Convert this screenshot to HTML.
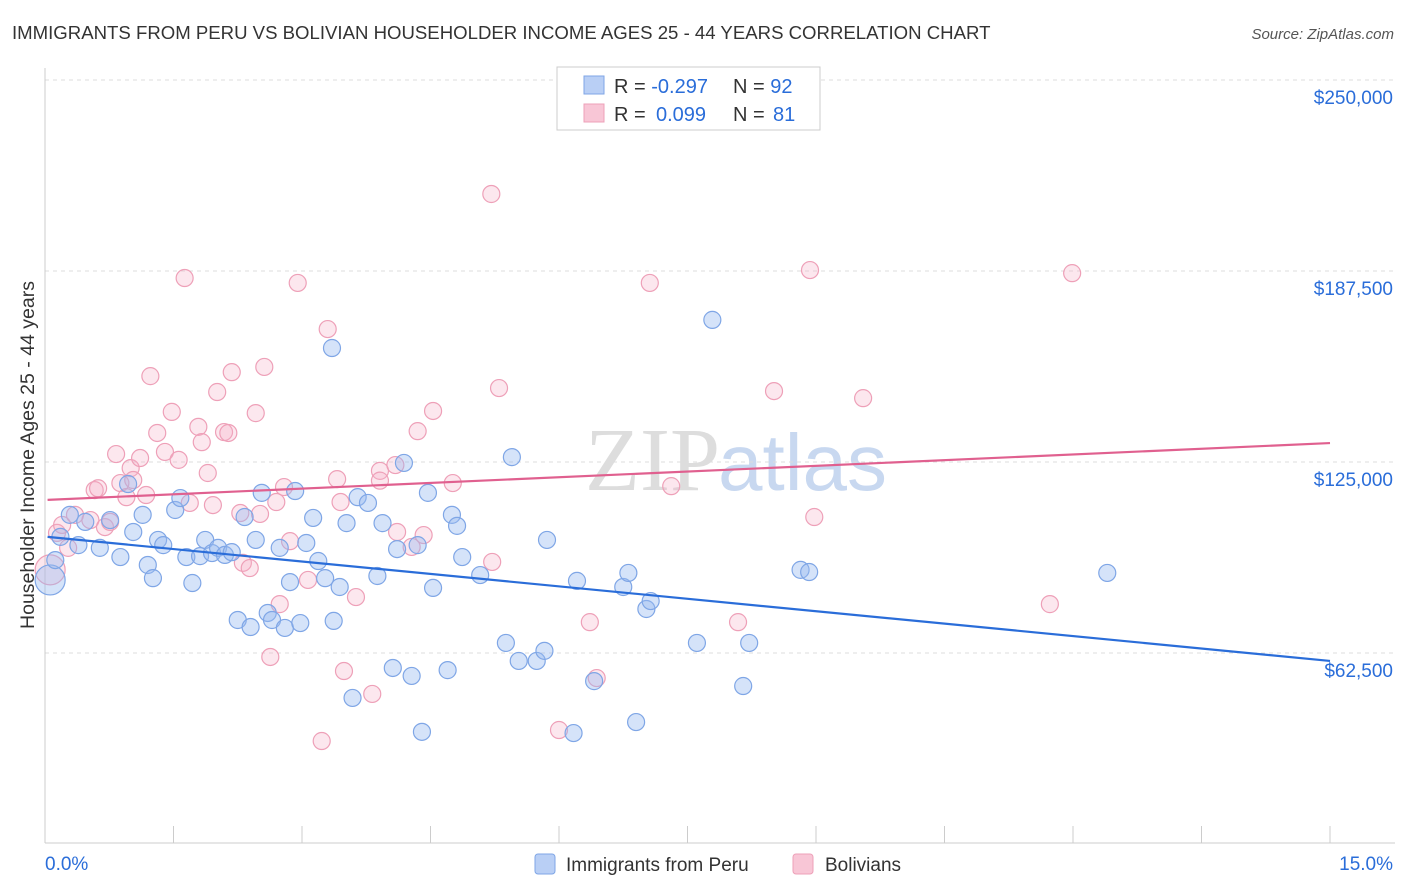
<!DOCTYPE html>
<html><head><meta charset="utf-8"><style>
body{margin:0;background:#fff;font-family:"Liberation Sans",sans-serif;}
svg{display:block}
</style></head><body>
<svg id="chart" width="1406" height="892">
<text x="12" y="39" font-size="18.6" fill="#333">IMMIGRANTS FROM PERU VS BOLIVIAN HOUSEHOLDER INCOME AGES 25 - 44 YEARS CORRELATION CHART</text>
<text x="1394" y="39" font-size="15" fill="#555" font-style="italic" text-anchor="end">Source: ZipAtlas.com</text>
<text x="720" y="490" font-size="90" fill="#ddd" text-anchor="end" font-family="Liberation Serif,serif">ZIP</text>
<text x="718" y="490" font-size="80" fill="#c8d8f0">atlas</text>
<text transform="translate(34,455) rotate(-90)" font-size="19.5" fill="#333" text-anchor="middle">Householder Income Ages 25 - 44 years</text>
<g id="grid"></g><g id="pts"></g><g id="lines"></g>
<g>
<rect x="557" y="67" width="263" height="63" fill="#fff" stroke="#ccc"/>
<rect x="584" y="76" width="20" height="18" fill="#b9cff5" stroke="#7fa6e6"/>
<rect x="584" y="104" width="20" height="18" fill="#f8c6d6" stroke="#eea0b8"/>
<text x="614" y="93" font-size="20" fill="#333">R = <tspan fill="#2a6dd9">-0.297</tspan><tspan x="733">N = </tspan><tspan fill="#2a6dd9">92</tspan></text>
<text x="614" y="121" font-size="20" fill="#333">R = <tspan fill="#2a6dd9" x="656">0.099</tspan><tspan x="733">N = </tspan><tspan fill="#2a6dd9" x="773">81</tspan></text>
</g>
<g>
<rect x="535" y="854" width="20" height="20" rx="3" fill="#b9cff5" stroke="#7fa6e6"/>
<text x="566" y="871" font-size="19" fill="#333">Immigrants from Peru</text>
<rect x="793" y="854" width="20" height="20" rx="3" fill="#f8c6d6" stroke="#eea0b8"/>
<text x="825" y="871" font-size="19" fill="#333">Bolivians</text>
</g>
</svg>
<script>
const yTicks=[62.5,125,187.5,250];
const yTickLabels=["$62,500","$125,000","$187,500","$250,000"];
const xTickLabels=["0.0%","15.0%"];
const peruX=[0.06,0.12,0.18,0.29,0.39,0.47,0.64,0.76,0.88,0.97,1.03,1.14,1.2,1.26,1.32,1.38,1.52,1.58,1.65,1.72,1.81,1.87,1.95,2.02,2.10,2.18,2.25,2.33,2.40,2.46,2.53,2.60,2.65,2.74,2.80,2.86,2.92,2.98,3.05,3.13,3.19,3.27,3.35,3.37,3.44,3.52,3.59,3.65,3.77,3.88,3.94,4.06,4.11,4.19,4.28,4.35,4.40,4.47,4.53,4.70,4.75,4.81,4.87,5.08,5.38,5.45,5.53,5.74,5.83,5.86,6.21,6.41,6.17,6.75,6.81,6.90,7.02,7.07,7.61,7.79,8.15,8.22,8.82,8.92,12.40];
const peruY=[86.4,92.9,100.5,107.7,97.8,105.4,96.9,106.0,93.9,117.8,102.1,107.7,91.3,87.0,99.5,97.8,109.3,113.2,93.9,85.4,94.2,99.5,95.2,96.9,94.6,95.5,73.3,107.0,71.0,99.5,114.9,75.6,73.3,96.9,70.7,85.7,115.5,72.3,98.5,106.7,92.6,87.0,162.3,73.0,84.1,105.0,47.8,113.5,111.6,87.7,105.0,57.6,96.5,124.7,55.0,97.8,36.7,114.9,83.8,56.9,107.7,104.1,93.9,88.0,65.8,126.6,59.9,59.9,63.2,99.5,86.1,53.3,36.3,84.1,88.7,39.9,76.9,79.5,65.8,171.5,51.7,65.8,89.7,89.0,88.7];
const bolX=[0.06,0.14,0.20,0.27,0.35,0.53,0.58,0.62,0.70,0.76,0.83,0.88,0.95,1.00,1.03,1.11,1.18,1.23,1.31,1.40,1.48,1.56,1.63,1.69,1.79,1.83,1.90,1.96,2.01,2.09,2.14,2.18,2.28,2.31,2.39,2.46,2.51,2.56,2.63,2.70,2.74,2.79,2.86,2.95,3.07,3.23,3.30,3.41,3.45,3.49,3.63,3.82,3.91,3.91,4.09,4.11,4.28,4.35,4.42,4.53,4.76,5.21,5.22,5.30,6.00,6.36,6.44,7.06,7.31,8.09,8.51,8.93,8.98,9.55,11.73,11.99];
const bolY=[89.7,101.8,104.4,96.9,107.7,106.0,115.8,116.4,103.7,105.4,127.6,118.1,113.5,123.0,119.1,126.3,114.2,153.1,134.5,128.3,141.4,125.7,185.2,111.6,136.5,131.5,121.4,110.9,147.9,134.8,134.5,154.4,108.3,92.0,90.3,141.0,108.0,156.1,61.2,111.9,78.5,116.8,99.1,183.6,86.4,33.7,168.5,119.4,111.9,56.6,80.8,49.1,122.1,118.9,124.0,102.1,97.2,135.1,101.1,141.7,118.1,212.7,92.3,149.2,37.3,72.6,54.3,183.6,117.1,72.6,148.2,187.8,107.0,145.9,78.5,186.8];
const peruTrend=[100.5,59.9];
const bolTrend=[112.6,131.2];
const NS="http://www.w3.org/2000/svg";
const X=p=>45+p/15*1285;
const Y=v=>653-(v-62.5)/62.5*191;
function mk(t,a,parent){const e=document.createElementNS(NS,t);for(const k in a)e.setAttribute(k,a[k]);parent.appendChild(e);return e;}
const grid=document.getElementById('grid');
yTicks.forEach((v,i)=>{
 const l=mk('line',{x1:45,x2:1395,y1:Y(v),y2:Y(v),stroke:'#ddd','stroke-dasharray':'4,4'},grid);
 
 
 const t=mk('text',{x:1393,y:Y(v)+24,'font-size':19,fill:'#2a6dd9','text-anchor':'end'},grid);
 t.textContent=yTickLabels[i];
 
 
});
const ax=mk('line',{x1:45,x2:1395,y1:843,y2:843,stroke:'#ccc'},grid);


const yax=mk('line',{x1:45,x2:45,y1:68,y2:843,stroke:'#ccc'},grid);


for(let i=0;i<=10;i++){const tk=mk('line',{x1:X(i*1.5),x2:X(i*1.5),y1:826,y2:843,stroke:'#ccc'},grid);
 
 }
[[0,45,'start'],[1,1393,'end']].forEach(([i,x,a])=>{const t=mk('text',{x:x,y:870,'font-size':19,fill:'#2a6dd9','text-anchor':a},grid);t.textContent=xTickLabels[i];
 
 });
const pts=document.getElementById('pts');
function draw(xs,ys,fill,stroke,name){xs.forEach((x,i)=>{const c=mk('circle',{cx:X(x),cy:Y(ys[i]),r:i==0?15:8.5,fill:fill,stroke:stroke,'stroke-width':1.2},pts);
 
 });}
draw(bolX,bolY,'rgba(245,175,200,0.3)','#eea0b8','bolivians-point');
draw(peruX,peruY,'rgba(150,185,240,0.4)','#7fa6e6','peru-point');
const lines=document.getElementById('lines');
const pl=mk('line',{x1:X(0.03),y1:Y(peruTrend[0]),x2:X(15),y2:Y(peruTrend[1]),stroke:'#2a6dd9','stroke-width':2.2},lines);


const bl=mk('line',{x1:X(0.03),y1:Y(bolTrend[0]),x2:X(15),y2:Y(bolTrend[1]),stroke:'#e0608f','stroke-width':2.2},lines);


</script>
</body></html>
